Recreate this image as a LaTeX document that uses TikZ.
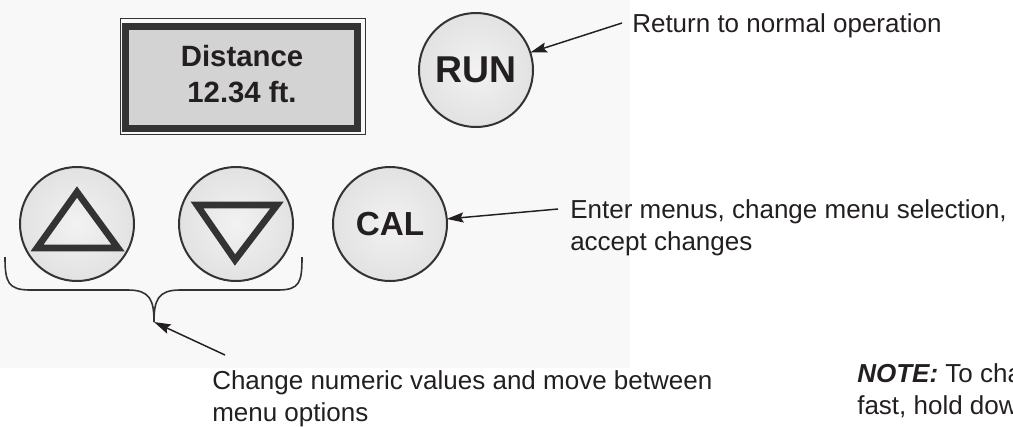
\documentclass[tikz,border=0pt]{standalone}
\usepackage{fontspec}
\setmainfont{Liberation Sans}
\usepackage{xcolor}
\usetikzlibrary{positioning,arrows.meta}
\definecolor{ink}{HTML}{231F20}
\definecolor{scanbg}{HTML}{F8F8F8}
\definecolor{lcd}{HTML}{D3D3D3}
\definecolor{rim}{HTML}{333333}
\definecolor{btnin}{HTML}{F2F2F2}
\definecolor{btnmid}{HTML}{E0E0E0}
\definecolor{btnout}{HTML}{C6C6C6}
\pgfdeclareradialshading{btnshade}{\pgfpoint{0bp}{0bp}}{color(0bp)=(btnin); color(28bp)=(btnmid); color(50bp)=(btnout)}

\begin{document}
\begin{tikzpicture}[x=0.75pt,y=-0.75pt,
    every node/.style={text=ink},
    >={Stealth[length=12.5pt,width=7.5pt,inset=2pt]},
    button/.style={circle,draw=rim,line width=1.5pt,shade,shading=btnshade,minimum size=85.5pt,inner sep=0pt,outer sep=0pt},
    arrowtri/.style={draw=rim,line width=5pt},
    pointer/.style={->,draw=ink,line width=1.1pt},
    note/.style={anchor=north west,inner sep=0pt,align=left,font=\fontsize{19.5pt}{24pt}\selectfont}]
  \useasboundingbox (0,0) rectangle (1013,426);
  \fill[scanbg] (0,0) rectangle (630,368);

  % display
  \node[draw=rim,line width=5.25pt,fill=lcd,minimum width=174.4pt,minimum height=76.1pt,outer sep=0pt] (display) at (241.5,77.5) {};
  \draw[rim,line width=1.1pt] ([shift={(-5,-8.5)}]display.north west) rectangle ([shift={(7.5,6.5)}]display.south east);
  \node[align=center,inner sep=0pt,font=\fontsize{22pt}{27pt}\bfseries\selectfont] (readout) at (242,74) {Distance\\12.34 ft.};

  % buttons
  \node[button,font=\fontsize{28pt}{28pt}\bfseries\selectfont] (run) at (476,70) {RUN};
  \node[button] (up) at (77,224) {};
  \node[button,on grid,right=119.25pt of up] (down) {};
  \node[button,on grid,right=115.5pt of down,font=\fontsize{25pt}{25pt}\bfseries\selectfont] (cal) {CAL};
  \draw[arrowtri] ([shift={(0,-32)}]up.center) -- ([shift={(41,24)}]up.center) -- ([shift={(-40,24)}]up.center) -- cycle;
  \draw[arrowtri] ([shift={(-39,-19)}]down.center) -- ([shift={(41,-19)}]down.center) -- ([shift={(-1,36)}]down.center) -- cycle;

  % labels
  \node[note] (retlbl) at (632,13) {Return to normal operation};
  \node[note] (callbl) at (570,199) {Enter menus, change menu selection,\\accept changes};
  \node[note] (chglbl) at (212,370) {Change numeric values and move between\\menu options};
  \node[note] (notelbl) at (857,363) {\textbf{\textit{NOTE:}} To change\\fast, hold down};

  % pointers
  \coordinate (runtail) at (622,23);
  \coordinate (caltail) at (558,209);
  \coordinate (bracetip) at (154,322);
  \coordinate (chgtail) at (225,355);
  \draw[pointer] (runtail) -- (run);
  \draw[pointer] (caltail) -- (cal);
  \draw[rim,line width=1.2pt] (5,257) .. controls (5,282) and (8,290) .. (30,290) -- (128,290)
    .. controls (150,290) and (154,300) .. (bracetip)
    .. controls (154,300) and (158,290) .. (180,290) -- (278,290)
    .. controls (300,290) and (302,282) .. (302,257);
  \draw[pointer] (chgtail) -- (bracetip);
\end{tikzpicture}
\end{document}
